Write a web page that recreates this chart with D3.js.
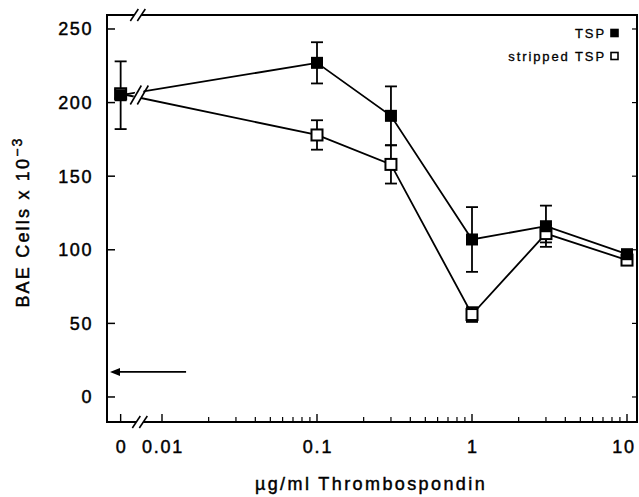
<!DOCTYPE html>
<html>
<head>
<meta charset="utf-8">
<script src="https://cdn.jsdelivr.net/npm/d3@7"></script>
<style>
  body { margin: 0; background: #fff; }
  text { font-family: "Liberation Sans", Arial, sans-serif; fill: #000; stroke: #000; stroke-width: 0.45px; }
</style>
</head>
<body>
<div id="chart"></div>
<script>
// concentrations (ug/ml), 0 is drawn left of the axis break
let concentrations = [0, 0.1, 0.3, 1, 3, 10];
let tspValues = [205, 227, 191, 107, 116, 97];
let tspErrors = [23, 14, 20, 22, 14, 2];
let strippedValues = [206, 178, 158, 56, 111, 93];
let strippedErrors = [3, 10, 13, 5, 6, 2];
let yTicks = [0, 50, 100, 150, 200, 250];
let xTickValues = [0, 0.01, 0.1, 1, 10];
let xTickLabels = ["0", "0.01", "0.1", "1", "10"];
let controlValue = 17;     // arrow, cells without TSP
let controlArrowEnd = 0.0143;
let seriesNames = ["TSP", "stripped TSP"];

let svgWidth = 639, svgHeight = 497;
let margin = {top: 15, right: 2, bottom: 75, left: 107};
let width = svgWidth - margin.left - margin.right,
    height = svgHeight - margin.top - margin.bottom;

let x = d3.scaleLog().domain([0.01, 10]).range([55, 520]);
let zeroProxy = 0.00541;   // where "0" sits on the log axis
let y = d3.scaleLinear().domain([-17, 259.5]).range([height, 0]);

function xPos(d) { return d === 0 ? x(zeroProxy) : x(d); }

let svg = d3.select("#chart").append("svg")
    .attr("width", svgWidth)
    .attr("height", svgHeight);

let g = svg.append("g")
    .attr("transform", "translate(" + margin.left + "," + margin.top + ")");

// frame
g.append("rect")
    .attr("x", 0).attr("y", 0)
    .attr("width", width).attr("height", height)
    .attr("fill", "none")
    .attr("stroke", "#000")
    .attr("stroke-width", 2);

// y ticks (inward, both sides)
g.selectAll(".ytick").data(yTicks).enter().append("line")
    .attr("x1", 0).attr("x2", 8)
    .attr("y1", d => y(d)).attr("y2", d => y(d))
    .attr("stroke", "#000").attr("stroke-width", 1.5);
g.selectAll(".ytickR").data(yTicks).enter().append("line")
    .attr("x1", width).attr("x2", width - 5)
    .attr("y1", d => y(d)).attr("y2", d => y(d))
    .attr("stroke", "#000").attr("stroke-width", 1.2);
g.selectAll(".ylab").data(yTicks).enter().append("text")
    .attr("x", -14)
    .attr("y", d => y(d) + 6.5)
    .attr("text-anchor", "end")
    .attr("font-size", "18px")
    .attr("letter-spacing", "1.6px")
    .text(d => d);

// x ticks: majors and log minors
let minorTicks = [];
[0.01, 0.1, 1].forEach(function(dec) {
    for (let k = 2; k <= 9; k++) minorTicks.push(dec * k);
});
g.selectAll(".xminor").data(minorTicks).enter().append("line")
    .attr("x1", d => x(d)).attr("x2", d => x(d))
    .attr("y1", height).attr("y2", height - 5)
    .attr("stroke", "#000").attr("stroke-width", 1.2);
g.selectAll(".xmajor").data(xTickValues).enter().append("line")
    .attr("x1", d => xPos(d)).attr("x2", d => xPos(d))
    .attr("y1", height).attr("y2", height - 8)
    .attr("stroke", "#000").attr("stroke-width", 1.4);
g.selectAll(".xlab").data(xTickValues).enter().append("text")
    .attr("x", (d, i) => xPos(d) + (i === 4 ? -3 : 1))
    .attr("y", height + 31)
    .attr("text-anchor", "middle")
    .attr("font-size", "18px")
    .attr("letter-spacing", "1.8px")
    .text((d, i) => xTickLabels[i]);

// axis labels
g.append("text")
    .attr("x", 264)
    .attr("y", height + 68)
    .attr("text-anchor", "middle")
    .attr("font-size", "18px")
    .attr("letter-spacing", "2.4px")
    .text("\u00b5g/ml Thrombospondin");

let yLab = svg.append("text")
    .attr("transform", "translate(29,222) rotate(-90)")
    .attr("text-anchor", "middle")
    .attr("font-size", "18px")
    .attr("letter-spacing", "2.2px");
yLab.append("tspan").text("BAE Cells x 10");
yLab.append("tspan").attr("dy", -7).attr("font-size", "14px").text("\u22123");

// lines
let line = d3.line()
    .x((d, i) => xPos(concentrations[i]))
    .y(d => y(d));

g.append("path").datum(tspValues)
    .attr("d", line).attr("fill", "none")
    .attr("stroke", "#000").attr("stroke-width", 1.8);
g.append("path").datum(strippedValues)
    .attr("d", line).attr("fill", "none")
    .attr("stroke", "#000").attr("stroke-width", 1.8);

// axis break marks: white gap + double slashes
let breakX = (xPos(0) + x(0.01)) / 2 - 1;
function drawBreak(cx, cy, h) {
    g.append("polygon")
        .attr("points", [[cx - 9, cy + h / 2], [cx - 1, cy - h / 2], [cx + 6, cy - h / 2], [cx - 2, cy + h / 2]].join(" "))
        .attr("fill", "#fff");
    [-5, 2].forEach(function(off) {
        g.append("line")
            .attr("x1", cx + off - 4).attr("y1", cy + h / 2)
            .attr("x2", cx + off + 4).attr("y2", cy - h / 2)
            .attr("stroke", "#000").attr("stroke-width", 1.6);
    });
}
drawBreak(breakX + 1, height, 12);
drawBreak(breakX - 1, 0, 12);
// break on the curves
let lineBreakY = y((tspValues[0] + strippedValues[0]) / 2);
g.append("polygon")
    .attr("points", [[breakX - 10, lineBreakY + 12], [breakX - 2, lineBreakY - 12], [breakX + 6, lineBreakY - 12], [breakX - 2, lineBreakY + 12]].join(" "))
    .attr("fill", "#fff");
[[-6, -3], [1, 4]].forEach(function(p) {
    g.append("line")
        .attr("x1", breakX + p[0] - 4).attr("y1", lineBreakY + 10)
        .attr("x2", breakX + p[1] + 4).attr("y2", lineBreakY - 9)
        .attr("stroke", "#000").attr("stroke-width", 1.6);
});

// error bars
function errorBars(values, errors) {
    let eb = g.append("g");
    values.forEach(function(v, i) {
        let cx = xPos(concentrations[i]);
        let e = errors[i];
        eb.append("line")
            .attr("x1", cx).attr("x2", cx)
            .attr("y1", y(v + e)).attr("y2", y(v - e))
            .attr("stroke", "#000").attr("stroke-width", 1.8);
        [v + e, v - e].forEach(function(c) {
            eb.append("line")
                .attr("x1", cx - 6).attr("x2", cx + 6)
                .attr("y1", y(c)).attr("y2", y(c))
                .attr("stroke", "#000").attr("stroke-width", 1.8);
        });
    });
}
errorBars(strippedValues, strippedErrors);
errorBars(tspValues, tspErrors);

// markers
let sq = 11;
g.selectAll(".open").data(strippedValues).enter().append("rect")
    .attr("x", (d, i) => xPos(concentrations[i]) - sq / 2)
    .attr("y", d => y(d) - sq / 2)
    .attr("width", sq).attr("height", sq)
    .attr("fill", "#fff").attr("stroke", "#000").attr("stroke-width", 2);
g.selectAll(".filled").data(tspValues).enter().append("rect")
    .attr("x", (d, i) => xPos(concentrations[i]) - sq / 2 - 0.5)
    .attr("y", d => y(d) - sq / 2 - 0.5)
    .attr("width", sq + 1).attr("height", sq + 1)
    .attr("fill", "#000");

// control arrow
let arrowY = y(controlValue);
g.append("line")
    .attr("x1", 10).attr("x2", x(controlArrowEnd))
    .attr("y1", arrowY).attr("y2", arrowY)
    .attr("stroke", "#000").attr("stroke-width", 1.8);
g.append("path")
    .attr("d", "M3," + arrowY + "L13," + (arrowY - 4) + "L13," + (arrowY + 4) + "Z")
    .attr("fill", "#000");

// legend
let legend = g.append("g");
seriesNames.forEach(function(name, i) {
    let ly = 18 + i * 23;
    legend.append("text")
        .attr("x", 499)
        .attr("y", ly + 5)
        .attr("text-anchor", "end")
        .attr("font-size", "13px")
        .attr("letter-spacing", "1.9px")
        .style("stroke-width", "0.3px")
        .text(name);
    legend.append("rect")
        .attr("x", 504).attr("y", ly - 3.5)
        .attr("width", 7).attr("height", 7)
        .attr("fill", i === 0 ? "#000" : "#fff")
        .attr("stroke", "#000").attr("stroke-width", 1.6);
});
</script>
</body>
</html>
